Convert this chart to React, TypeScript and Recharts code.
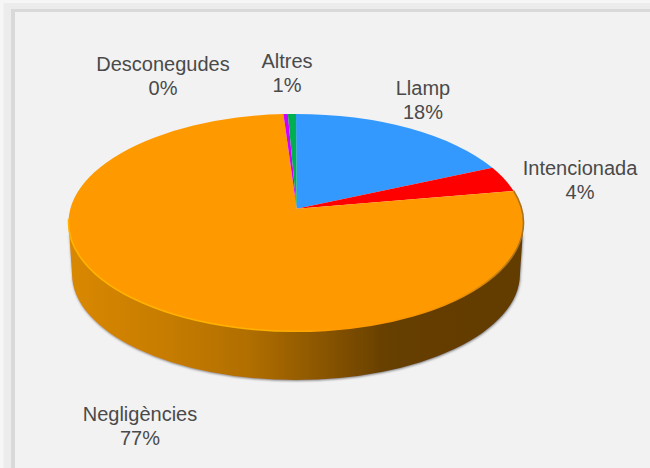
import React from 'react';
import { PieChart, Pie } from 'recharts';

const categories = ['Llamp', 'Intencionada', 'Negligències', 'Desconegudes', 'Altres'];
const shares = [18.4, 3.9, 76.7, 0.35, 0.65];
const percentLabels = ['18%', '4%', '77%', '0%', '1%'];
const colors = ['#3399ff', '#ff0000', '#ff9900', '#cc00ff', '#00b050'];

// hand placed label centres, same order as categories
const labelX = [423, 580, 140, 163, 287];
const labelY = [88, 168, 414, 64, 61];

const data = categories.map((name, i) => ({ name, value: shares[i], fill: colors[i] }));

// top face of the tilted pie
const CX = 296;
const RX = 227.5;
const TOP_CY = 222.6;
const TOP_RY = 108.7;
// the apex sits above the ellipse centre because of the perspective
const TILT = 0.128;
// bottom rim of the wall
const BOTTOM_CX = 296;
const BOTTOM_RX = 224;
const BOTTOM_CY = 274;
const BOTTOM_RY = 106;

const rad = (d: number) => (d * Math.PI) / 180;

// chart angle -> angle on the ellipse, clockwise from the top
const toEllipseAngle = (angle: number) => {
  const theta = rad(90 - angle);
  const up = Math.cos(theta);
  const side = Math.sin(theta);
  const d = 1 + TILT * up;
  const y = (up + TILT) / d;
  const x = (side * Math.sqrt(1 - TILT * TILT)) / d;
  const t = (Math.atan2(x, y) * 180) / Math.PI;
  const turn = Math.floor((90 - angle) / 360);
  return (t < 0 ? t + 360 : t) + turn * 360;
};

const topPoint = (t: number) => [CX + RX * Math.sin(rad(t)), TOP_CY - TOP_RY * Math.cos(rad(t))];
const bottomPoint = (t: number) => [
  BOTTOM_CX + BOTTOM_RX * Math.sin(rad(t)),
  BOTTOM_CY - BOTTOM_RY * Math.cos(rad(t)),
];

const angleRange = (props: any) => {
  let from = toEllipseAngle(props.startAngle);
  let to = toEllipseAngle(props.endAngle);
  if (to <= from) to += 360;
  return [from, to];
};

const TopSlice = (props: any) => {
  const [from, to] = angleRange(props);
  const a = topPoint(from);
  const b = topPoint(to);
  const large = to - from > 180 ? 1 : 0;
  const apexY = TOP_CY - TOP_RY * TILT;
  const d = `M${CX + 0.7},${apexY} L${a[0]},${a[1]} A${RX},${TOP_RY} 0 ${large} 1 ${b[0]},${b[1]} Z`;
  const p = topPoint(Math.max(from, 68));
  const q = topPoint(Math.min(to, 272));
  return (
    <g>
      <path d={d} fill={props.fill} stroke="none" />
      {to - from > 180 && (
        <path
          d={`M${p[0]},${p[1]} A${RX},${TOP_RY} 0 1 1 ${q[0]},${q[1]}`}
          fill="none"
          stroke="url(#rim)"
          strokeWidth={1.6}
        />
      )}
    </g>
  );
};

const WallSlice = (props: any) => {
  const [from, to] = angleRange(props);
  const t1 = Math.max(from, 90);
  const t2 = Math.min(to, 270);
  if (t1 >= t2) return null;
  const a = topPoint(t1);
  const b = topPoint(t2);
  const c = bottomPoint(t2);
  const e = bottomPoint(t1);
  const d =
    `M${a[0]},${a[1]} A${RX},${TOP_RY} 0 0 1 ${b[0]},${b[1]} L${c[0]},${c[1]} ` +
    `A${BOTTOM_RX},${BOTTOM_RY} 0 0 0 ${e[0]},${e[1]} Z`;
  return <path d={d} fill="url(#wall)" stroke="none" filter="url(#wallShadow)" />;
};

const renderLabel = ({ index }: any) => (
  <text
    key={index}
    textAnchor="middle"
    fontFamily="'Liberation Sans', sans-serif"
    fontSize={20}
    fill="#4a4a4a"
  >
    <tspan x={labelX[index]} y={labelY[index] + 7}>{categories[index]}</tspan>
    <tspan x={labelX[index]} y={labelY[index] + 31}>{percentLabels[index]}</tspan>
  </text>
);

export default function App() {
  return (
    <div
      style={{
        position: 'absolute',
        left: 0,
        top: 0,
        width: 650,
        height: 468,
        background: '#f2f2f2',
        overflow: 'hidden',
      }}
    >
      <div style={{ position: 'absolute', left: 0, top: 0, width: 650, height: 3, background: '#f6f6f6' }} />
      <div style={{ position: 'absolute', left: 0, top: 0, width: 3, height: 468, background: '#f6f6f6' }} />
      <div style={{ position: 'absolute', left: 4, top: 3, width: 646, height: 465, background: '#ececec' }} />
      <div style={{ position: 'absolute', left: 11, top: 9, width: 639, height: 459, background: '#d9d9d9' }} />
      <div style={{ position: 'absolute', left: 15, top: 12, width: 635, height: 456, background: '#f2f2f2' }} />
      <div style={{ position: 'absolute', left: 0, top: 0 }}>
        <PieChart width={650} height={468} margin={{ top: 0, right: 0, bottom: 0, left: 0 }}>
          <defs>
            <linearGradient id="wall" gradientUnits="userSpaceOnUse" x1="69" y1="0" x2="524" y2="0">
              <stop offset="0" stopColor="#d98800" />
              <stop offset="0.2" stopColor="#c87d00" />
              <stop offset="0.4" stopColor="#b06e00" />
              <stop offset="0.58" stopColor="#845200" />
              <stop offset="0.7" stopColor="#663f00" />
              <stop offset="1" stopColor="#633c00" />
            </linearGradient>
            <linearGradient id="rim" gradientUnits="userSpaceOnUse" x1="69" y1="0" x2="524" y2="0">
              <stop offset="0" stopColor="#ffb300" />
              <stop offset="0.45" stopColor="#ffb000" />
              <stop offset="0.6" stopColor="#ff9900" />
              <stop offset="0.85" stopColor="#f09200" />
              <stop offset="1" stopColor="#a87020" />
            </linearGradient>
            <filter id="wallShadow" x="-5%" y="-5%" width="110%" height="115%">
              <feDropShadow dx="0.5" dy="1" stdDeviation="1.2" floodColor="#555555" floodOpacity="0.7" />
            </filter>
          </defs>
          <Pie
            data={data}
            dataKey="value"
            cx={297}
            cy={208}
            outerRadius={100}
            startAngle={90}
            endAngle={-270}
            stroke="none"
            shape={WallSlice}
            isAnimationActive={false}
          />
          <Pie
            data={data}
            dataKey="value"
            cx={297}
            cy={208}
            outerRadius={100}
            startAngle={90}
            endAngle={-270}
            stroke="none"
            shape={TopSlice}
            label={renderLabel}
            labelLine={false}
            isAnimationActive={false}
          />
        </PieChart>
      </div>
    </div>
  );
}
